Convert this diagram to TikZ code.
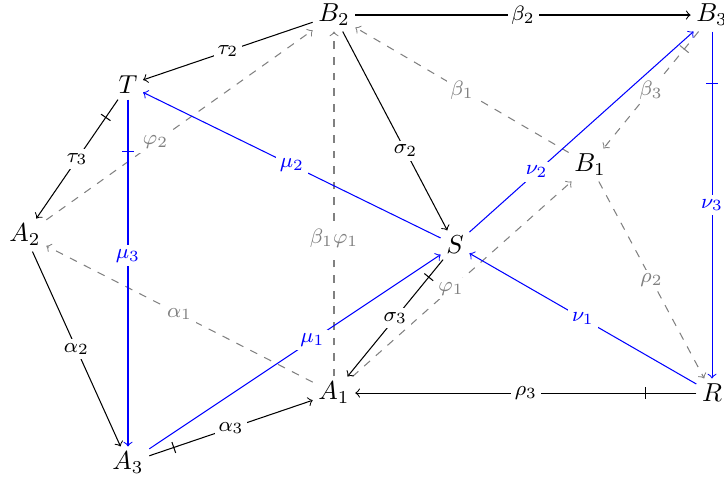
\documentclass[tikz,border=0pt]{standalone}
\usepackage{amsmath,amssymb}
\usetikzlibrary{decorations.markings}
\tikzset{
 ob/.style={inner sep=2pt},
 ar/.style={->},
 da/.style={->,gray,dashed},
 bl/.style={->,blue},
 lb/.style={fill=white,inner sep=1.5pt,font=\footnotesize},
 hatch/.style={postaction={decorate},decoration={markings,
  mark=at position 0.15 with {\draw[solid,-] (0,-2.2pt)--(0,2.2pt);}}}}

\begin{document}
\begin{tikzpicture}[x=0.385pt,y=-0.385pt]
 \useasboundingbox (0,0) rectangle (724,477);
 \node[ob] (b2) at (334,15) {$B_2$};
 \node[ob] (b3) at (712,15) {$B_3$};
 \node[ob] (t) at (128,85) {$T$};
 \node[ob] (b1) at (590,165) {$B_1$};
 \node[ob] (a2) at (25,235) {$A_2$};
 \node[ob] (s) at (455,245) {$S$};
 \node[ob] (a1) at (334,393) {$A_1$};
 \node[ob] (r) at (712,393) {$R$};
 \node[ob] (a3) at (128,463) {$A_3$};
 \draw[da] (a2) -- node[lb,pos=0.41]{$\varphi_2$} (b2);
 \draw[da] (a1) -- node[lb]{$\alpha_1$} (a2);
 \draw[da] (a1) -- node[lb,pos=0.4]{$\beta_1\varphi_1$} (b2);
 \draw[da] (a1) -- node[lb,pos=0.45]{$\varphi_1$} (b1);
 \draw[da] (b1) -- node[lb]{$\beta_1$} (b2);
 \draw[da,hatch] (b3) -- node[lb]{$\beta_3$} (b1);
 \draw[da] (b1) -- node[lb]{$\rho_2$} (r);
 \draw[ar] (b2) -- node[lb]{$\beta_2$} (b3);
 \draw[ar] (b2) -- node[lb]{$\tau_2$} (t);
 \draw[ar] (b2) -- node[lb,pos=0.6]{$\sigma_2$} (s);
 \draw[ar,hatch] (t) -- node[lb]{$\tau_3$} (a2);
 \draw[ar] (a2) -- node[lb]{$\alpha_2$} (a3);
 \draw[ar,hatch] (a3) -- node[lb]{$\alpha_3$} (a1);
 \draw[ar,hatch] (s) -- node[lb]{$\sigma_3$} (a1);
 \draw[ar,hatch] (r) -- node[lb]{$\rho_3$} (a1);
 \draw[bl] (s) -- node[lb]{$\mu_2$} (t);
 \draw[bl,hatch] (t) -- node[lb,pos=0.45]{$\mu_3$} (a3);
 \draw[bl] (a3) -- node[lb,pos=0.56]{$\mu_1$} (s);
 \draw[bl] (s) -- node[lb,pos=0.3]{$\nu_2$} (b3);
 \draw[bl,hatch] (b3) -- node[lb]{$\nu_3$} (r);
 \draw[bl] (r) -- node[lb]{$\nu_1$} (s);
\end{tikzpicture}
\end{document}
